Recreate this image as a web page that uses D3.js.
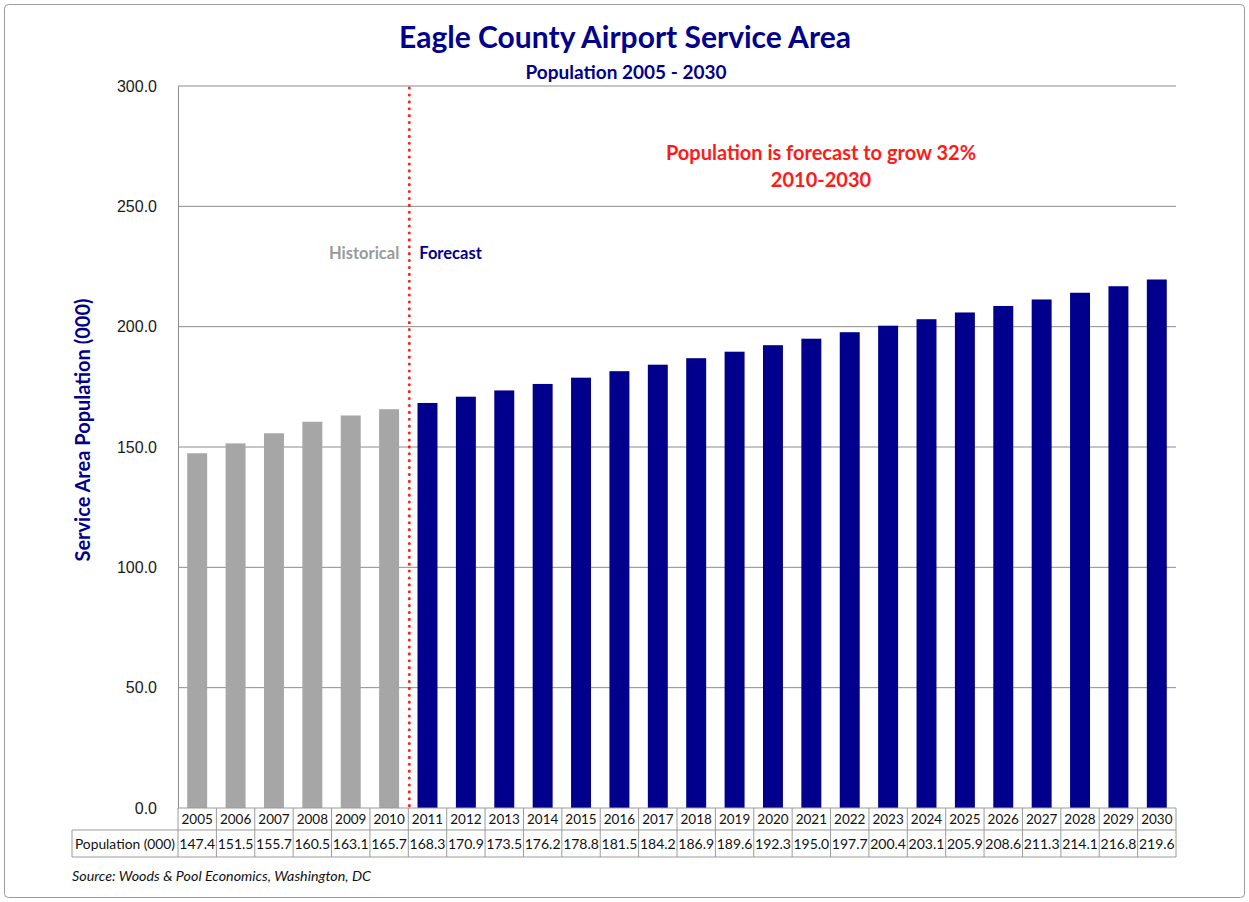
<!DOCTYPE html>
<html>
<head>
<meta charset="utf-8">
<script src="https://cdn.jsdelivr.net/npm/d3@7"></script>
<style>
  html, body { margin: 0; padding: 0; background: #fff; }
  svg { display: block; font-family: Lato, "Open Sans", sans-serif; }
</style>
</head>
<body>
<div id="chart"></div>
<script>
const years = ['2005','2006','2007','2008','2009','2010','2011','2012','2013','2014','2015','2016','2017',
    '2018','2019','2020','2021','2022','2023','2024','2025','2026','2027','2028','2029','2030'];
const population = [147.4, 151.5, 155.7, 160.5, 163.1, 165.7, 168.3, 170.9, 173.5, 176.2, 178.8, 181.5, 184.2,
    186.9, 189.6, 192.3, 195.0, 197.7, 200.4, 203.1, 205.9, 208.6, 211.3, 214.1, 216.8, 219.6];
const lastHistorical = '2010';
const yTicks = [0, 50, 100, 150, 200, 250, 300];

const width = 1249, height = 902;
const m = { left: 178, right: 1176, top: 86, bottom: 808 };
const navy = '#00008c';
const grey = '#a6a6a6';

const svg = d3.select('#chart').append('svg')
    .attr('width', width)
    .attr('height', height);

// outer frame
svg.append('rect')
    .attr('x', 4.5).attr('y', 4.5)
    .attr('width', width - 9).attr('height', height - 9)
    .attr('rx', 4)
    .attr('fill', '#fff')
    .attr('stroke', '#9a9a9a');

const x = d3.scaleBand().domain(years).range([m.left, m.right]).paddingInner(0.48).paddingOuter(0.24);
const y = d3.scaleLinear().domain([0, 300]).range([m.bottom, m.top]);

// gridlines
svg.append('g')
    .selectAll('line')
    .data(yTicks.filter(d => d > 0))
    .join('line')
    .attr('x1', m.left).attr('x2', m.right)
    .attr('y1', d => y(d)).attr('y2', d => y(d))
    .attr('stroke', '#8c8c8c')
    .attr('stroke-width', 1);

// y axis
const yAxis = svg.append('g')
    .attr('transform', `translate(${m.left},0)`)
    .call(d3.axisLeft(y).tickValues(yTicks).tickFormat(d3.format('.1f')).tickSize(0).tickPadding(21));
yAxis.select('.domain').attr('stroke', '#8c8c8c');
yAxis.selectAll('text')
    .attr('font-size', 16)
    .attr('fill', '#1a1a1a');

// bars
const histIdx = years.indexOf(lastHistorical);
svg.append('g')
    .selectAll('rect')
    .data(years.map((yr, i) => ({ yr, v: population[i], hist: i <= histIdx })))
    .join('rect')
    .attr('x', d => x(d.yr))
    .attr('width', x.bandwidth())
    .attr('y', d => y(d.v))
    .attr('height', d => y(0) - y(d.v))
    .attr('fill', d => d.hist ? grey : navy);

// dotted divider
const divX = x(lastHistorical) + x.step() - (x.step() - x.bandwidth()) / 2 + 1;
svg.append('line')
    .attr('x1', divX).attr('x2', divX)
    .attr('y1', m.top + 2).attr('y2', m.bottom)
    .attr('stroke', '#ff2020')
    .attr('stroke-width', 3)
    .attr('stroke-linecap', 'round')
    .attr('stroke-dasharray', '0.1 6.8');

// data table
const rowH1 = 22, rowH2 = 27;
const tableTop = m.bottom;
const labelLeft = 72;
const tbl = svg.append('g');
const borderCol = '#9a9a9a';
tbl.append('line').attr('x1', m.left).attr('x2', m.right).attr('y1', tableTop).attr('y2', tableTop).attr('stroke', borderCol);
tbl.append('line').attr('x1', labelLeft).attr('x2', m.right).attr('y1', tableTop + rowH1).attr('y2', tableTop + rowH1).attr('stroke', borderCol);
tbl.append('line').attr('x1', labelLeft).attr('x2', m.right).attr('y1', tableTop + rowH1 + rowH2).attr('y2', tableTop + rowH1 + rowH2).attr('stroke', borderCol);
tbl.append('line').attr('x1', labelLeft).attr('x2', labelLeft).attr('y1', tableTop + rowH1).attr('y2', tableTop + rowH1 + rowH2).attr('stroke', borderCol);
const edges = years.map(yr => x(yr) - (x.step() - x.bandwidth()) / 2).concat([m.right]);
tbl.selectAll('line.v')
    .data(edges)
    .join('line')
    .attr('class', 'v')
    .attr('x1', d => d).attr('x2', d => d)
    .attr('y1', tableTop).attr('y2', tableTop + rowH1 + rowH2)
    .attr('stroke', borderCol);
tbl.selectAll('text.yr')
    .data(years)
    .join('text')
    .attr('class', 'yr')
    .attr('x', d => x(d) + x.bandwidth() / 2)
    .attr('y', tableTop + 16)
    .attr('text-anchor', 'middle')
    .attr('font-size', 13.5)
    .attr('fill', '#111')
    .text(d => d);
tbl.selectAll('text.val')
    .data(population)
    .join('text')
    .attr('class', 'val')
    .attr('x', (d, i) => x(years[i]) + x.bandwidth() / 2)
    .attr('y', tableTop + rowH1 + 19)
    .attr('text-anchor', 'middle')
    .attr('font-size', 14)
    .attr('fill', '#111')
    .text(d => d.toFixed(1));
tbl.append('text')
    .attr('x', (labelLeft + m.left) / 2)
    .attr('y', tableTop + rowH1 + 19)
    .attr('text-anchor', 'middle')
    .attr('font-size', 13.8)
    .attr('fill', '#111')
    .text('Population (000)');

// titles
svg.append('text')
    .attr('x', 625).attr('y', 48)
    .attr('text-anchor', 'middle')
    .attr('font-size', 30)
    .attr('font-weight', 'bold')
    .attr('fill', navy)
    .text('Eagle County Airport Service Area');
svg.append('text')
    .attr('x', 626).attr('y', 79)
    .attr('text-anchor', 'middle')
    .attr('font-size', 19)
    .attr('font-weight', 'bold')
    .attr('fill', navy)
    .text('Population 2005 - 2030');

// y axis title
svg.append('text')
    .attr('transform', 'translate(90,430) rotate(-90)')
    .attr('text-anchor', 'middle')
    .attr('font-size', 20)
    .attr('font-weight', 'bold')
    .attr('fill', navy)
    .text('Service Area Population (000)');

// annotations
const note = svg.append('text')
    .attr('text-anchor', 'middle')
    .attr('font-size', 20)
    .attr('font-weight', 'bold')
    .attr('fill', '#ff1a1a');
note.append('tspan').attr('x', 821).attr('y', 160).text('Population is forecast to grow 32%');
note.append('tspan').attr('x', 821).attr('y', 187).text('2010-2030');

svg.append('text')
    .attr('x', divX - 10).attr('y', 259)
    .attr('text-anchor', 'end')
    .attr('font-size', 16.5)
    .attr('font-weight', 'bold')
    .attr('fill', '#9a9a9a')
    .text('Historical');
svg.append('text')
    .attr('x', divX + 10).attr('y', 259)
    .attr('font-size', 16.5)
    .attr('font-weight', 'bold')
    .attr('fill', navy)
    .text('Forecast');

// source
svg.append('text')
    .attr('x', 72).attr('y', 881)
    .attr('font-size', 14.3)
    .attr('font-style', 'italic')
    .attr('fill', '#111')
    .text('Source: Woods & Pool Economics, Washington, DC');
</script>
</body>
</html>
